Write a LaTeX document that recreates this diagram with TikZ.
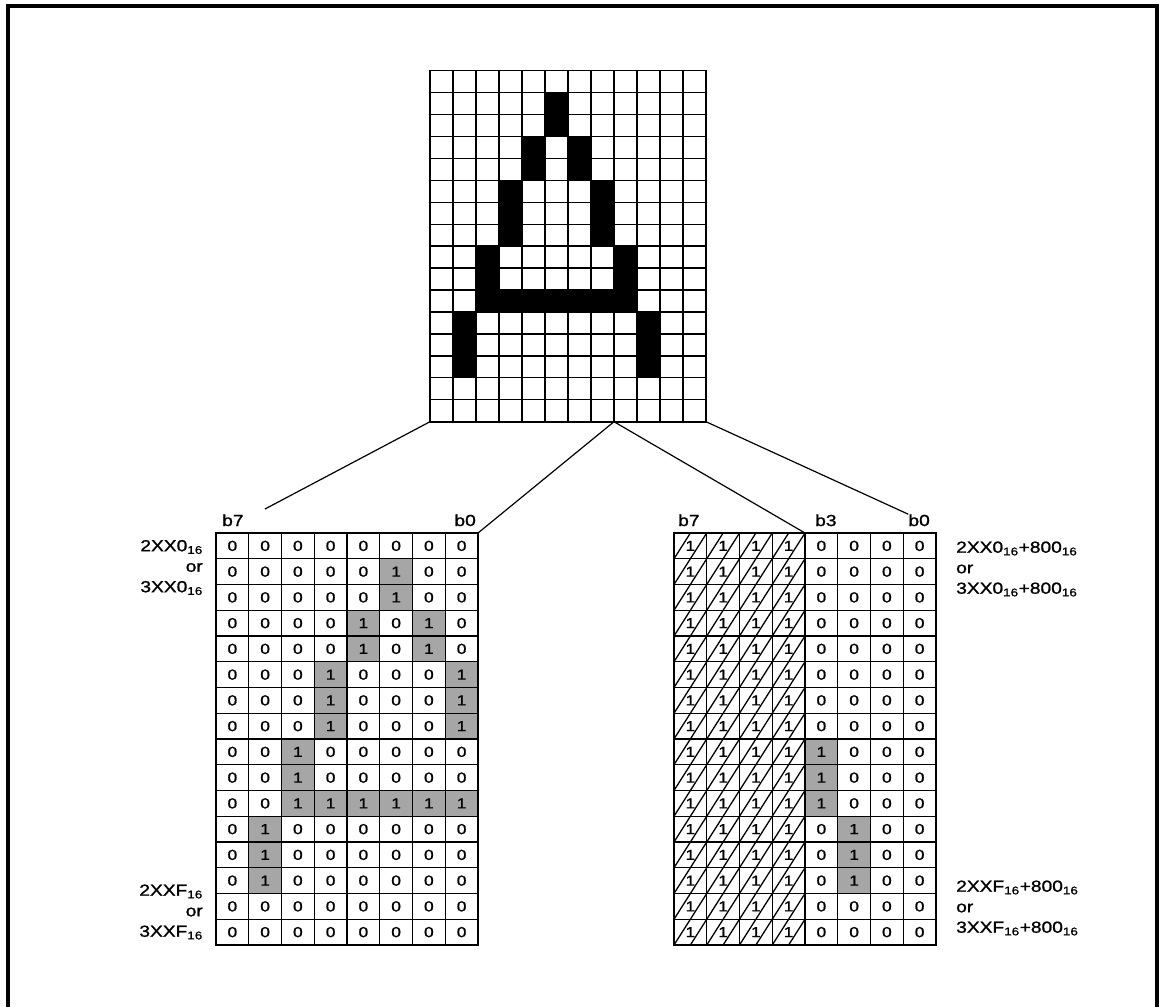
\documentclass[tikz,border=0pt]{standalone}
\usepackage{fontspec}
\setmainfont{Liberation Sans}[FakeStretch=1.2,FakeBold=1.2]
\newcommand{\hex}[1]{#1\textsubscript{16}}

\begin{document}
\begin{tikzpicture}[x=1pt,y=-1pt,line join=miter,
    cellrule/.style={line width=1.3pt},
    boxrule/.style={line width=1.8pt},
    onebit/.style={fill=black!35},
    bit/.style={font=\fontsize{14.5}{14.5}\selectfont,inner sep=0pt},
    tag/.style={font=\fontsize{16}{20.5}\selectfont,inner sep=0pt},
    feed/.style={line width=1.2pt}]
\useasboundingbox (0,0) rectangle (1162,1007);
\draw[line width=3.5pt] (8,1007) -- (8,6) -- (1157,6) -- (1157,1007);
% ================= character pattern, 12 x 16 dots =================
  \def\gx{430}   \def\gy{70.5}      % top left corner of the dot grid
  \def\gw{23}    \def\gh{21.95}     % dot size
  \def\glyph{0/{0,0,0,0,0,0,0,0,0,0,0,0}, 1/{0,0,0,0,0,1,0,0,0,0,0,0},
             2/{0,0,0,0,0,1,0,0,0,0,0,0}, 3/{0,0,0,0,1,0,1,0,0,0,0,0},
             4/{0,0,0,0,1,0,1,0,0,0,0,0}, 5/{0,0,0,1,0,0,0,1,0,0,0,0},
             6/{0,0,0,1,0,0,0,1,0,0,0,0}, 7/{0,0,0,1,0,0,0,1,0,0,0,0},
             8/{0,0,1,0,0,0,0,0,1,0,0,0}, 9/{0,0,1,0,0,0,0,0,1,0,0,0},
            10/{0,0,1,1,1,1,1,1,1,0,0,0},11/{0,1,0,0,0,0,0,0,0,1,0,0},
            12/{0,1,0,0,0,0,0,0,0,1,0,0},13/{0,1,0,0,0,0,0,0,0,1,0,0},
            14/{0,0,0,0,0,0,0,0,0,0,0,0},15/{0,0,0,0,0,0,0,0,0,0,0,0}}
  \foreach \r/\bits in \glyph {
    \foreach \b [count=\c from 0] in \bits {
      \ifnum\b=1 \fill (\gx+\c*\gw,\gy+\r*\gh) rectangle ++(\gw,\gh); \fi}}
  \foreach \c in {0,...,12}
    \draw[cellrule] (\gx+\c*\gw,\gy) -- (\gx+\c*\gw,\gy+16*\gh);
  \foreach \r in {0,...,16}
    \draw[cellrule] (\gx,\gy+\r*\gh) -- (\gx+12*\gw,\gy+\r*\gh);
  \draw[boxrule] (\gx,\gy) rectangle (\gx+12*\gw,\gy+16*\gh);
% ================= memory tables =================
  \def\ty{533}   \def\th{25.75}     % top and row height of both tables
  \def\lx{216}   \def\rx{674}       % left edges
  \def\tw{32.75}                    % column width
  % hatched upper nibble of the right table
  \begin{scope}
    \clip (\rx,\ty) rectangle (\rx+4*\tw,\ty+16*\th);
    \foreach \k in {0,...,24}
      \draw[cellrule] (\rx+\k*\tw/2-8*\tw,\ty+16*\th) -- ++(8*\tw,-16*\th);
  \end{scope}
  \foreach \r/\bits in \glyph {
    \foreach \b [count=\c from 0] in \bits {
      \ifnum\c<8
        \ifnum\b=1 \fill[onebit] (\lx+\c*\tw,\ty+\r*\th) rectangle ++(\tw,\th); \fi
        \node[bit] (L-\r-\c) at (\lx+\c*\tw+\tw/2,\ty+\r*\th+\th/2) {\b};
      \else
        \ifnum\b=1 \fill[onebit] (\rx+\c*\tw-4*\tw,\ty+\r*\th) rectangle ++(\tw,\th); \fi
        \node[bit] (R-\r-\c) at (\rx+\c*\tw-4*\tw+\tw/2,\ty+\r*\th+\th/2) {\b};
      \fi}
    \foreach \c in {0,...,3}
      \node[bit] (H-\r-\c) at (\rx+\c*\tw+\tw/2,\ty+\r*\th+\th/2) {1};}
  \foreach \x in {\lx,\rx} {
    \foreach \c in {1,...,7}
      \draw[cellrule] (\x+\c*\tw,\ty) -- (\x+\c*\tw,\ty+16*\th);
    \foreach \r in {1,...,15}
      \draw[cellrule] (\x,\ty+\r*\th) -- (\x+8*\tw,\ty+\r*\th);
    \draw[boxrule] (\x,\ty) rectangle (\x+8*\tw,\ty+16*\th);}
  % bit numbers
  \node[tag,anchor=base west] (b7L) at (\lx+6,526) {b7};
  \node[tag,anchor=base east] (b0L) at (\lx+8*\tw-2,526) {b0};
  \node[tag,anchor=base west] (b7R) at (\rx+4,526) {b7};
  \node[tag,anchor=base west] (b3R) at (\rx+4*\tw+10,526) {b3};
  \node[tag,anchor=base east] (b0R) at (\rx+8*\tw-6,526) {b0};
  % addresses
  \node[tag,align=right,anchor=east] (topL) at (203,567.5) {\hex{2XX0}\\or\\\hex{3XX0}};
  \node[tag,align=right,anchor=east] (endL) at (203,912) {\hex{2XXF}\\or\\\hex{3XXF}};
  \node[tag,align=left,anchor=west] (topR) at (956,569)
        {\hex{2XX0}+\hex{800}\\or\\\hex{3XX0}+\hex{800}};
  \node[tag,align=left,anchor=west] (endR) at (956,908)
        {\hex{2XXF}+\hex{800}\\or\\\hex{3XXF}+\hex{800}};
% ================= fan-out lines =================
  \coordinate (glyphSW) at (\gx,\gy+16*\gh);
  \coordinate (glyphS)  at (\gx+8*\gw,\gy+16*\gh);
  \coordinate (glyphSE) at (\gx+12*\gw,\gy+16*\gh);
  \coordinate (leftNE)  at (\lx+8*\tw,\ty);
  \coordinate (rightN)  at (\rx+4*\tw,\ty);
  \coordinate (leftTip) at (265,509);
  \draw[feed] (glyphSW) -- (leftTip);
  \draw[feed] (glyphS) -- (leftNE);
  \draw[feed] (glyphS) -- (rightN);
  \draw[feed] (glyphSE) -- (b0R.north west);
\end{tikzpicture}
\end{document}
